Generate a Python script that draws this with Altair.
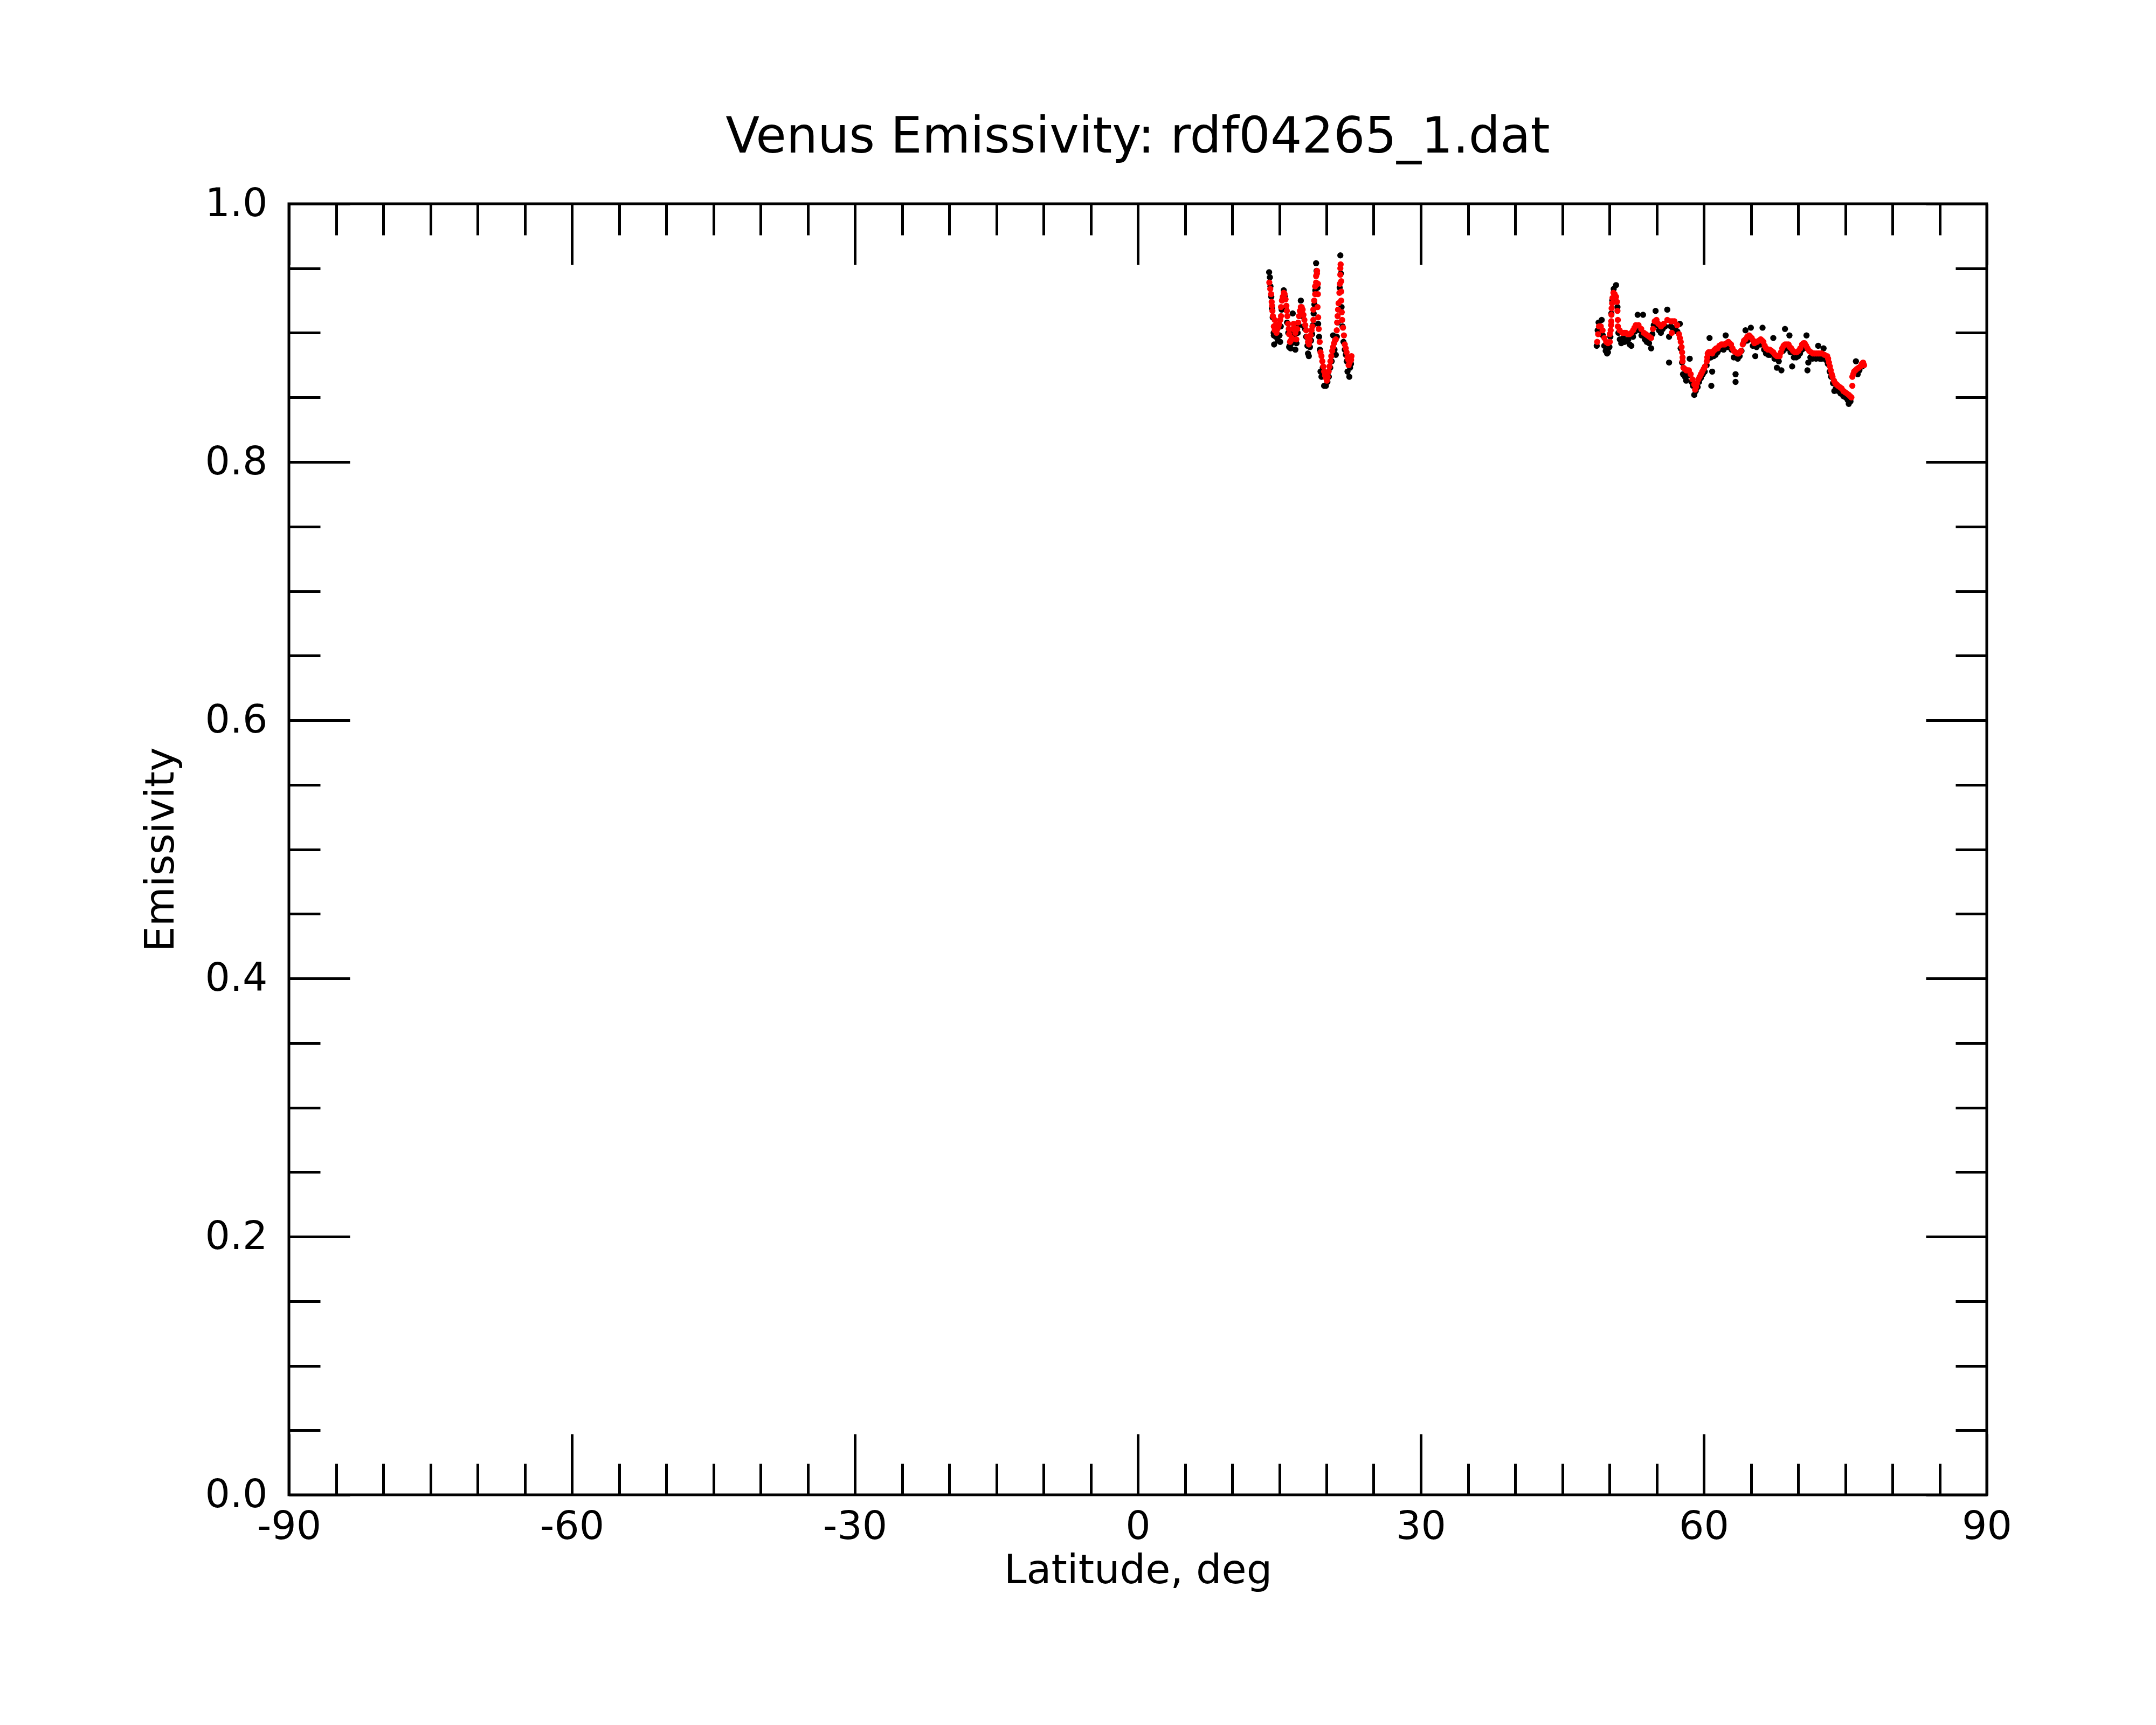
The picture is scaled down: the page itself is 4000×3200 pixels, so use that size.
import altair as alt
import pandas as pd

FONT = "DejaVu Sans"

# ---------------- data ----------------
# smoothed series (red)
red_lat = [
    13.94, 14.04, 14.13, 14.19, 14.23, 14.27, 14.32, 14.42, 14.51, 14.51, 14.61, 14.70, 14.80, 14.90,
    14.99, 15.09, 15.18, 15.18, 15.28, 15.37, 15.47, 15.56, 15.66, 15.75, 15.80, 15.85, 15.94, 16.00,
    16.04, 16.13, 16.22, 16.32, 16.42, 16.51, 16.61, 16.70, 16.80, 16.90, 17.00, 17.09, 17.18, 17.28,
    17.37, 17.47, 17.56, 17.66, 17.75, 17.85, 17.95, 18.04, 18.13, 18.22, 18.32, 18.42, 18.51, 18.61,
    18.61, 18.70, 18.80, 18.80, 18.90, 18.90, 18.99, 19.00, 19.09, 19.09, 19.05, 19.12, 19.18, 19.28,
    19.37, 19.47, 19.56, 19.66, 19.75, 19.85, 19.94, 20.04, 20.13, 20.23, 20.32, 20.42, 20.51, 20.61,
    20.70, 20.80, 20.90, 20.99, 21.09, 21.13, 21.18, 21.23, 21.28, 21.37, 21.42, 21.47, 21.47, 21.50,
    21.56, 21.56, 21.56, 21.62, 21.66, 21.75, 21.85, 21.94, 22.04, 22.13, 22.23, 22.32, 22.42, 22.51,
    22.61, 22.35, 22.45, 22.55, 22.65,
    48.70, 48.80, 48.89, 49.08, 49.27, 49.46, 49.65, 49.84, 50.04, 50.04, 50.13, 50.17, 50.19, 50.21,
    50.23, 50.28, 50.32, 50.42, 50.55, 50.70, 50.80, 50.85, 50.89, 50.89, 51.08, 51.37, 51.56, 51.75,
    51.94, 52.13, 52.32, 52.51, 52.65, 52.80, 53.08, 53.37, 53.65, 53.85, 54.04, 54.23, 54.42, 54.61,
    54.80, 54.99, 55.18, 55.46, 55.75, 56.13, 56.51, 56.70, 56.89, 57.18, 56.61, 57.37, 57.46, 57.56,
    57.65, 57.70, 57.75, 57.75, 57.84, 58.00, 58.13, 58.27, 58.42, 58.61, 58.80, 58.99, 59.08, 59.18,
    59.27, 59.42, 59.56, 59.70, 59.84, 59.99, 60.13, 60.32, 60.37, 60.42, 60.51, 60.70, 60.89, 61.04,
    61.18, 61.32, 61.46, 61.65, 61.85, 62.04, 62.23, 62.42, 62.61, 62.75, 62.89, 63.04, 63.18, 63.37,
    63.56, 63.70, 63.84, 63.94, 64.13, 64.27, 64.42, 64.61, 64.80, 64.94, 65.08, 65.23, 65.37, 65.51,
    65.65, 65.85, 66.04, 66.18, 66.32, 66.46, 66.61, 66.80, 66.99, 67.18, 67.37, 67.56, 67.75, 67.90,
    68.04, 68.18, 68.32, 68.46, 68.61, 68.80, 68.99, 69.13, 69.27, 69.46, 69.65, 69.85, 70.04, 70.23,
    70.42, 70.56, 70.70, 70.85, 70.99, 71.18, 71.37, 71.56, 71.75, 71.94, 72.13, 72.32, 72.51, 72.80,
    73.08, 73.18, 73.27, 73.37, 73.46, 73.56, 73.65, 73.80, 73.94, 74.08, 74.23, 74.42, 74.61, 74.80,
    74.99, 75.18, 75.37, 75.51, 75.65, 75.75, 75.75, 75.85, 75.94, 76.08, 76.23, 76.42, 76.61, 76.75,
    76.89, 76.99,
]
red_emis = [
    0.939, 0.934, 0.930, 0.924, 0.921, 0.917, 0.913, 0.905, 0.910, 0.902, 0.906, 0.900, 0.903, 0.905,
    0.907, 0.910, 0.913, 0.920, 0.925, 0.928, 0.931, 0.930, 0.926, 0.921, 0.917, 0.913, 0.907, 0.903,
    0.899, 0.893, 0.894, 0.896, 0.903, 0.907, 0.904, 0.900, 0.895, 0.903, 0.908, 0.913, 0.917, 0.920,
    0.920, 0.918, 0.914, 0.910, 0.906, 0.902, 0.897, 0.893, 0.891, 0.894, 0.898, 0.902, 0.905, 0.910,
    0.918, 0.925, 0.930, 0.936, 0.939, 0.944, 0.946, 0.948, 0.938, 0.930, 0.920, 0.912, 0.903, 0.893,
    0.885, 0.882, 0.878, 0.874, 0.870, 0.867, 0.865, 0.863, 0.866, 0.870, 0.874, 0.878, 0.882, 0.886,
    0.889, 0.892, 0.894, 0.895, 0.902, 0.908, 0.913, 0.918, 0.923, 0.931, 0.938, 0.945, 0.950, 0.953,
    0.940, 0.932, 0.925, 0.916, 0.910, 0.904, 0.898, 0.891, 0.888, 0.885, 0.881, 0.879, 0.880, 0.881,
    0.879, 0.875, 0.877, 0.880, 0.882,
    0.893, 0.899, 0.905, 0.905, 0.902, 0.896, 0.893, 0.892, 0.893, 0.899, 0.902, 0.906, 0.909, 0.914,
    0.919, 0.923, 0.927, 0.931, 0.930, 0.928, 0.924, 0.917, 0.910, 0.905, 0.902, 0.900, 0.900, 0.900,
    0.899, 0.899, 0.900, 0.902, 0.904, 0.906, 0.906, 0.903, 0.900, 0.899, 0.898, 0.897, 0.896, 0.903,
    0.909, 0.910, 0.907, 0.905, 0.907, 0.910, 0.909, 0.909, 0.909, 0.906, 0.900, 0.899, 0.896, 0.893,
    0.889, 0.885, 0.881, 0.878, 0.873, 0.872, 0.871, 0.871, 0.871, 0.868, 0.864, 0.860, 0.856, 0.858,
    0.861, 0.864, 0.866, 0.868, 0.870, 0.872, 0.874, 0.878, 0.881, 0.884, 0.885, 0.885, 0.884, 0.886,
    0.887, 0.888, 0.888, 0.890, 0.891, 0.891, 0.891, 0.892, 0.893, 0.892, 0.891, 0.888, 0.886, 0.885,
    0.884, 0.884, 0.885, 0.886, 0.891, 0.894, 0.895, 0.897, 0.898, 0.897, 0.896, 0.894, 0.892, 0.893,
    0.893, 0.894, 0.895, 0.894, 0.893, 0.890, 0.888, 0.887, 0.887, 0.886, 0.885, 0.883, 0.882, 0.882,
    0.882, 0.885, 0.888, 0.890, 0.891, 0.891, 0.891, 0.889, 0.888, 0.886, 0.885, 0.885, 0.886, 0.888,
    0.891, 0.892, 0.892, 0.890, 0.888, 0.886, 0.885, 0.884, 0.884, 0.884, 0.884, 0.884, 0.884, 0.883,
    0.882, 0.880, 0.877, 0.874, 0.871, 0.868, 0.866, 0.863, 0.861, 0.860, 0.859, 0.858, 0.857, 0.855,
    0.854, 0.853, 0.852, 0.851, 0.850, 0.859, 0.866, 0.868, 0.870, 0.871, 0.872, 0.873, 0.874, 0.876,
    0.877, 0.875,
]

# raw measurements (black)
blk_lat = [
    13.92, 14.00, 14.06, 14.15, 14.22, 14.30, 14.40, 14.42, 14.45, 14.55, 14.62, 14.75, 14.85, 14.95,
    15.02, 15.09, 15.15, 15.25, 15.35, 15.47, 15.58, 15.70, 15.82, 15.95, 16.04, 16.10, 16.20, 16.30,
    16.42, 16.50, 16.60, 16.70, 16.82, 16.95, 17.05, 17.15, 17.28, 17.40, 17.50, 17.62, 17.72, 17.85,
    17.98, 18.04, 18.13, 18.25, 18.36, 18.48, 18.58, 18.64, 18.72, 18.82, 18.90, 18.95, 19.05, 19.12,
    19.22, 19.30, 19.37, 19.47, 19.60, 19.75, 19.94, 20.10, 20.25, 20.40, 20.55, 20.70, 20.85, 20.99,
    21.10, 21.20, 21.30, 21.40, 21.47, 21.52, 21.60, 21.70, 21.80, 21.94, 22.05, 22.15, 22.23, 22.42,
    22.50, 22.60,
    48.65, 48.75, 48.85, 49.00, 49.18, 49.30, 49.45, 49.60, 49.75, 49.84, 50.00, 50.10, 50.20, 50.30,
    50.45, 50.70, 50.85, 50.95, 51.10, 51.25, 51.45, 51.60, 51.80, 52.00, 52.15, 52.32, 52.50, 52.70,
    52.99, 53.20, 53.40, 53.56, 53.75, 53.95, 54.20, 54.42, 54.55, 54.70, 54.89, 55.05, 55.25, 55.45,
    55.65, 55.90, 56.13, 56.32, 56.32, 56.50, 56.75, 57.00, 57.20, 57.46, 57.55, 57.70, 57.80, 58.00,
    58.13, 58.30, 58.51, 58.70, 58.85, 58.99, 59.15, 59.35, 59.50, 59.70, 59.90, 60.10, 60.30, 60.45,
    60.61, 60.75, 60.89, 60.80, 61.05, 61.25, 61.45, 61.65, 61.90, 62.10, 62.32, 62.50, 62.70, 62.95,
    63.18, 63.37, 63.37, 63.60, 63.80, 64.00, 64.20, 64.42, 64.60, 64.85, 64.99, 65.20, 65.46, 65.60,
    65.85, 66.05, 66.23, 66.40, 66.60, 66.85, 67.05, 67.37, 67.50, 67.75, 67.95, 68.23, 68.40, 68.61,
    68.80, 69.08, 69.20, 69.37, 69.55, 69.80, 70.00, 70.20, 70.40, 70.60, 70.89, 70.99, 71.08, 71.30,
    71.50, 71.70, 71.90, 72.13, 72.30, 72.50, 72.70, 72.95, 73.15, 73.35, 73.50, 73.70, 73.84, 74.00,
    74.25, 74.50, 74.80, 75.05, 75.25, 75.37, 75.55, 76.13, 76.32, 76.50, 76.80,
]
blk_emis = [
    0.947, 0.943, 0.936, 0.928, 0.919, 0.912, 0.900, 0.898, 0.891, 0.904, 0.897, 0.899, 0.894, 0.898,
    0.898, 0.893, 0.905, 0.918, 0.926, 0.933, 0.928, 0.918, 0.908, 0.900, 0.889, 0.890, 0.888, 0.892,
    0.915, 0.900, 0.899, 0.887, 0.892, 0.900, 0.906, 0.913, 0.925, 0.915, 0.913, 0.905, 0.903, 0.897,
    0.890, 0.884, 0.882, 0.889, 0.894, 0.899, 0.906, 0.915, 0.922, 0.933, 0.954, 0.948, 0.935, 0.907,
    0.897, 0.887, 0.870, 0.866, 0.873, 0.859, 0.859, 0.862, 0.866, 0.873, 0.878, 0.898, 0.887, 0.883,
    0.897, 0.908, 0.918, 0.935, 0.960, 0.946, 0.920, 0.905, 0.893, 0.887, 0.883, 0.878, 0.870, 0.866,
    0.873, 0.876,
    0.890, 0.902, 0.908, 0.900, 0.910, 0.898, 0.890, 0.886, 0.884, 0.885, 0.889, 0.897, 0.915, 0.925,
    0.934, 0.937, 0.920, 0.900, 0.895, 0.892, 0.896, 0.893, 0.894, 0.895, 0.891, 0.890, 0.897, 0.901,
    0.914, 0.902, 0.898, 0.914, 0.895, 0.893, 0.892, 0.888, 0.899, 0.906, 0.917, 0.906, 0.902, 0.900,
    0.903, 0.905, 0.918, 0.897, 0.877, 0.905, 0.903, 0.904, 0.901, 0.907, 0.888, 0.877, 0.868, 0.866,
    0.863, 0.867, 0.880, 0.862, 0.859, 0.852, 0.855, 0.858, 0.862, 0.865, 0.868, 0.870, 0.875, 0.880,
    0.896, 0.881, 0.870, 0.859, 0.882, 0.883, 0.885, 0.887, 0.888, 0.887, 0.898, 0.889, 0.890, 0.887,
    0.881, 0.868, 0.862, 0.880, 0.882, 0.886, 0.892, 0.902, 0.894, 0.895, 0.904, 0.890, 0.882, 0.889,
    0.891, 0.891, 0.904, 0.887, 0.884, 0.883, 0.883, 0.896, 0.880, 0.873, 0.878, 0.871, 0.886, 0.903,
    0.888, 0.898, 0.885, 0.874, 0.881, 0.881, 0.882, 0.884, 0.887, 0.888, 0.898, 0.871, 0.877, 0.881,
    0.880, 0.881, 0.880, 0.890, 0.880, 0.880, 0.888, 0.879, 0.876, 0.870, 0.866, 0.861, 0.855, 0.857,
    0.855, 0.853, 0.851, 0.850, 0.848, 0.845, 0.847, 0.878, 0.868, 0.871, 0.874,
]

# axis ticks and labels
x_major = [-90, -60, -30, 0, 30, 60, 90]
x_minor = [-85, -80, -75, -70, -65, -55, -50, -45, -40, -35, -25, -20, -15, -10, -5,
           5, 10, 15, 20, 25, 35, 40, 45, 50, 55, 65, 70, 75, 80, 85]
y_major = [0.0, 0.2, 0.4, 0.6, 0.8, 1.0]
y_minor = [0.05, 0.1, 0.15, 0.25, 0.3, 0.35, 0.45, 0.5, 0.55, 0.65, 0.7, 0.75, 0.85, 0.9, 0.95]

TITLE = "Venus Emissivity: rdf04265_1.dat"
X_TITLE = "Latitude, deg"
Y_TITLE = "Emissivity"

# ---------------- chart ----------------
W, H = 3150, 2395
MAJOR, MINOR, TW = 113, 58, 5
DOT = 130

red_df = pd.DataFrame({"lat": red_lat, "emis": red_emis})
blk_df = pd.DataFrame({"lat": blk_lat, "emis": blk_emis})


def xsc():
    return alt.Scale(domain=[-90, 90], nice=False, zero=False)


def ysc():
    return alt.Scale(domain=[0, 1], nice=False, zero=False)


def tick_axis(orient, values, size, offset):
    return alt.Axis(orient=orient, values=values, tickSize=size, tickWidth=TW,
                    tickColor="black", ticks=True, labels=False, domain=False,
                    grid=False, offset=offset)


label_x_axis = alt.Axis(orient="bottom", values=x_major, ticks=False, tickSize=0,
                        domain=False, grid=False, labelFont=FONT, labelFontSize=73,
                        labelColor="black", labelPadding=23, labelFlush=False,
                        labelOverlap=False, labelExpr="'' + datum.value",
                        titleFont=FONT, titleFontSize=75, titleFontWeight="normal",
                        titleColor="black", titlePadding=8)
label_y_axis = alt.Axis(orient="left", values=y_major, ticks=False, tickSize=0,
                        domain=False, grid=False, labelFont=FONT, labelFontSize=73,
                        labelColor="black", labelPadding=40, labelFlush=False,
                        labelOverlap=False, format=".1f",
                        titleFont=FONT, titleFontSize=75, titleFontWeight="normal",
                        titleColor="black", titlePadding=42)

black_layer = alt.Chart(blk_df).mark_circle(size=DOT, color="black", opacity=1).encode(
    x=alt.X("lat:Q", scale=xsc(), axis=label_x_axis, title=X_TITLE),
    y=alt.Y("emis:Q", scale=ysc(), axis=label_y_axis, title=Y_TITLE),
)

red_layer = alt.Chart(red_df).mark_circle(size=DOT, color="#ff0000", opacity=1).encode(
    x=alt.X("lat:Q", scale=xsc(), axis=tick_axis("top", x_major, MAJOR, -H), title=None),
    y=alt.Y("emis:Q", scale=ysc(), axis=tick_axis("right", y_major, MAJOR, -W), title=None),
)

ghost1 = alt.Chart(red_df).mark_circle(size=1, opacity=0).encode(
    x=alt.X("lat:Q", scale=xsc(), axis=tick_axis("top", x_minor, MINOR, -H), title=None),
    y=alt.Y("emis:Q", scale=ysc(), axis=tick_axis("right", y_minor, MINOR, -W), title=None),
)
ghost2 = alt.Chart(red_df).mark_circle(size=1, opacity=0).encode(
    x=alt.X("lat:Q", scale=xsc(), axis=tick_axis("bottom", x_major, MAJOR, -H), title=None),
    y=alt.Y("emis:Q", scale=ysc(), axis=tick_axis("left", y_major, MAJOR, -W), title=None),
)
ghost3 = alt.Chart(red_df).mark_circle(size=1, opacity=0).encode(
    x=alt.X("lat:Q", scale=xsc(), axis=tick_axis("bottom", x_minor, MINOR, -H), title=None),
    y=alt.Y("emis:Q", scale=ysc(), axis=tick_axis("left", y_minor, MINOR, -W), title=None),
)

chart = alt.layer(black_layer, red_layer, ghost1, ghost2, ghost3).resolve_axis(
    x="independent", y="independent"
).properties(
    width=W,
    height=H,
    title=alt.TitleParams(TITLE, font=FONT, fontSize=92, fontWeight="normal",
                          color="black", anchor="middle", frame="group", offset=40),
    autosize=alt.AutoSizeParams(type="none"),
    padding={"left": 528, "top": 370, "right": 300, "bottom": 400},
    background="white",
).configure_view(
    stroke="black", strokeWidth=5, fill="white"
)

chart.save("out.html", embed_options={"renderer": "svg", "actions": False})
